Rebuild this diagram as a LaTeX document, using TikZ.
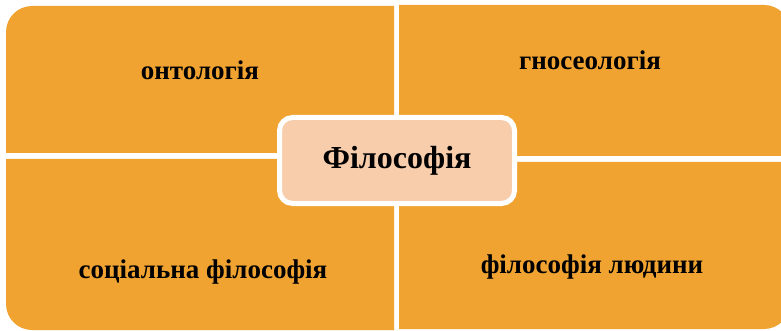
\documentclass[tikz,border=0pt]{standalone}
\usepackage{fontspec}
\setmainfont{Liberation Serif}
\usepackage{tikz}
\usetikzlibrary{positioning}
\definecolor{quadorange}{HTML}{F0A330}
\definecolor{corepeach}{HTML}{F7CDAC}

\begin{document}
\begin{tikzpicture}[x=1pt, y=-1pt,
    quad/.style={fill=quadorange},
    quadtext/.style={anchor=base, font=\bfseries\fontsize{27}{32}\selectfont},
    core/.style={draw=white, line width=5pt, fill=corepeach, rounded corners=13pt,
                 minimum width=235pt, minimum height=86pt,
                 font=\bfseries\fontsize{32}{38}\selectfont}]
    \useasboundingbox (0,0) rectangle (781,331);
    \clip (0,0) rectangle (781,331);
    \fill[white] (0,0) rectangle (781,331);

    % four quadrants, only the outer corner is rounded
    \fill[quad] (394,153) -- (6,153) {[rounded corners=26pt] -- (6,6)} -- (394,6) -- cycle;
    \fill[quad] (399,156) -- (399,5) {[rounded corners=26pt] -- (790,5)} -- (790,156) -- cycle;
    \fill[quad] (394,159) -- (394,330) {[rounded corners=26pt] -- (6,330)} -- (6,159) -- cycle;
    \fill[quad] (399,162) -- (790,162) {[rounded corners=26pt] -- (790,329)} -- (399,329) -- cycle;

    \node[quadtext] at (200, 80) (ontology)   {онтологія};
    \node[quadtext] at (590, 70) (gnoseology) {гносеологія};
    \node[quadtext] at (203,278) (socialphil) {соціальна філософія};
    \node[quadtext] at (592,273) (humanphil)  {філософія людини};

    \node[core] at (397,160.5) (philosophy) {Філософія};
\end{tikzpicture}
\end{document}
